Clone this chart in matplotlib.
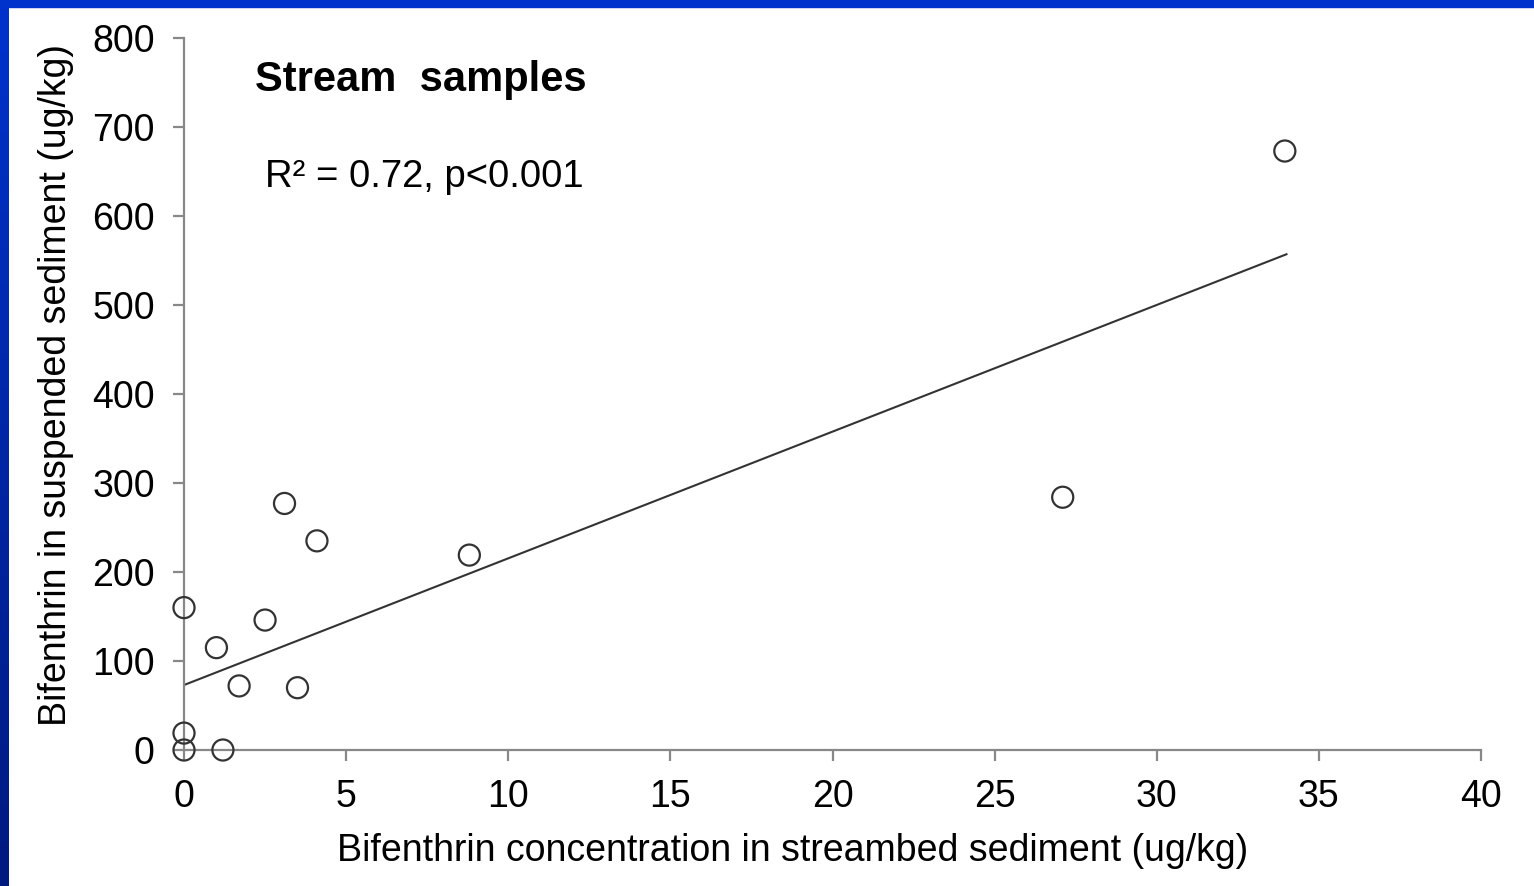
import numpy as np
import matplotlib.pyplot as plt
from matplotlib.colors import LinearSegmentedColormap
from matplotlib.patches import Rectangle

plt.rcParams['font.family'] = ['Liberation Sans', 'DejaVu Sans']

# Stream samples
streambed = [0, 0, 0, 1.0, 1.2, 1.7, 2.5, 3.1, 3.5, 4.1, 8.8, 27.1, 33.95]
suspended = [160, 19, 0, 115, 0, 72, 146, 277, 70, 235, 219, 284, 673]

# Regression line ends
fit_x = [0, 34]
fit_y = [73, 557]

x_ticks = [0, 5, 10, 15, 20, 25, 30, 35, 40]
y_ticks = [0, 100, 200, 300, 400, 500, 600, 700, 800]

fig = plt.figure(figsize=(15.34, 8.86), dpi=100)
fig.patch.set_facecolor('white')

# blue slide frame (top and left edges)
fig.patches.append(Rectangle((0, 1 - 7 / 886), 1, 7 / 886, transform=fig.transFigure,
                             color='#0033cc', zorder=0))
left_ax = fig.add_axes([0, 0, 9 / 1534, 1])
grad = np.linspace(0, 1, 100).reshape(-1, 1)
left_ax.imshow(grad, aspect='auto', extent=(0, 1, 0, 1),
               cmap=LinearSegmentedColormap.from_list('b', ['#0033cc', '#001a80']))
left_ax.axis('off')

ax = fig.add_axes([184 / 1534, 136 / 886, (1481 - 184) / 1534, (750 - 38) / 886])
ax.scatter(streambed, suspended, s=230, facecolors='none', edgecolors='#333333',
           linewidths=1.6, zorder=3, clip_on=False)
ax.plot(fit_x, fit_y, color='#333333', lw=1.5, zorder=2)

ax.set_xlim(0, 40)
ax.set_ylim(0, 800)
ax.set_xticks(x_ticks)
ax.set_yticks(y_ticks)
ax.spines['top'].set_visible(False)
ax.spines['right'].set_visible(False)
for s in ('left', 'bottom'):
    ax.spines[s].set_color('#888888')
    ax.spines[s].set_linewidth(1.6)
ax.tick_params(axis='both', direction='out', length=8, width=1.6, color='#888888',
               labelsize=27, labelcolor='black')
ax.tick_params(axis='x', pad=13)
ax.tick_params(axis='y', pad=13)

ax.set_xlabel('Bifenthrin concentration in streambed sediment (ug/kg)', fontsize=27)
ax.set_ylabel('Bifenthrin in suspended sediment (ug/kg)', fontsize=27)
ax.xaxis.set_label_coords(0.469, -0.116)
ax.yaxis.set_label_coords(-0.085, 0.513)

ax.text(2.2, 753, 'Stream  samples', fontsize=30, fontweight='bold', va='center', ha='left')
ax.text(2.5, 644, 'R² = 0.72, p<0.001', fontsize=27.5, va='center', ha='left')

fig.savefig('out.png', dpi=100)
